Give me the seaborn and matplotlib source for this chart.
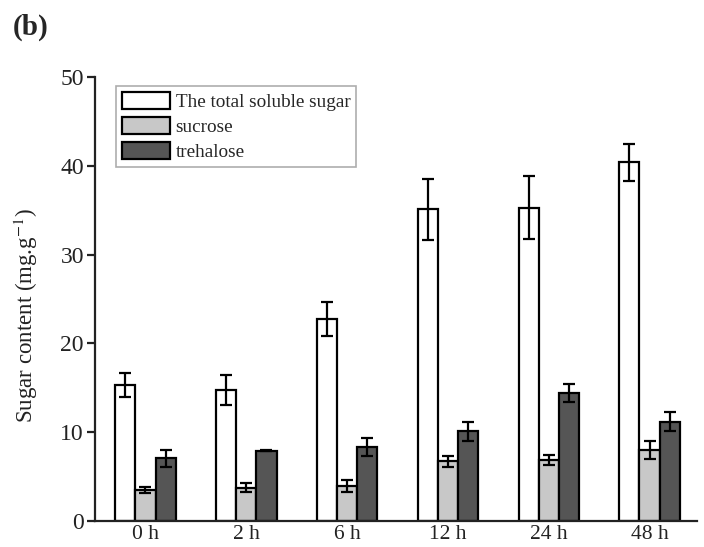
import matplotlib
matplotlib.use("Agg")
import matplotlib.pyplot as plt
import seaborn as sns
import pandas as pd
import numpy as np

# Sugar content over time (mean ± error)
times = ["0 h", "2 h", "6 h", "12 h", "24 h", "48 h"]
series = ["The total soluble sugar", "sucrose", "trehalose"]
total_sugar = [15.3, 14.75, 22.75, 35.1, 35.3, 40.4]
total_err = [1.35, 1.65, 1.9, 3.45, 3.55, 2.1]
sucrose = [3.5, 3.75, 3.95, 6.75, 6.85, 8.0]
sucrose_err = [0.38, 0.52, 0.7, 0.62, 0.55, 0.97]
trehalose = [7.05, 7.9, 8.35, 10.1, 14.4, 11.2]
trehalose_err = [0.97, 0.06, 1.0, 1.1, 1.05, 1.07]

values = [total_sugar, sucrose, trehalose]
errors = [total_err, sucrose_err, trehalose_err]
colors = ["#ffffff", "#c8c8c8", "#555555"]

df = pd.DataFrame({
    "time": np.tile(times, 3),
    "series": np.repeat(series, len(times)),
    "value": np.concatenate(values),
})

sns.set_style("ticks")
plt.rcParams["font.family"] = ["Liberation Serif", "DejaVu Serif"]
plt.rcParams["mathtext.fontset"] = "stix"

fig = plt.figure(figsize=(7.04, 5.47), dpi=100)
ax = fig.add_axes([0.135, 0.0475, 0.855, 0.8115])

sns.barplot(data=df, x="time", y="value", hue="series", order=times,
            hue_order=series, palette=colors, errorbar=None, width=0.6,
            edgecolor="black", linewidth=1.6, saturation=1, ax=ax)

# error bars placed on the drawn bars
bars = [p for p in ax.patches if p.get_height() > 0][:len(times) * len(series)]
for i, (vals, errs) in enumerate(zip(values, errors)):
    for j in range(len(times)):
        p = bars[i * len(times) + j]
        xc = p.get_x() + p.get_width() / 2
        ax.errorbar(xc, vals[j], yerr=errs[j], fmt="none", ecolor="black",
                    elinewidth=1.6, capsize=4.5, capthick=1.6, zorder=5)

ax.set_ylim(0, 50)
ax.set_xlim(-0.5, 5.47)
ax.set_yticks([0, 10, 20, 30, 40, 50])
ax.set_xlabel("")
ax.set_ylabel(r"Sugar content (mg.g$^{-1}$)", fontsize=16.5, color="#222222")
ax.yaxis.set_label_coords(-0.092, 0.462)
ax.tick_params(axis="y", labelsize=17, length=6, width=1.6, direction="out",
               colors="#222222", pad=2)
ax.tick_params(axis="x", labelsize=15.5, length=0, pad=3, colors="#222222")
for s in ["top", "right"]:
    ax.spines[s].set_visible(False)
for s in ["left", "bottom"]:
    ax.spines[s].set_linewidth(1.6)
    ax.spines[s].set_color("#222222")

leg = ax.legend(loc="upper left", bbox_to_anchor=(0.035, 0.98), fontsize=13.8,
                frameon=True, fancybox=False, edgecolor="#999999",
                handlelength=2.5, handleheight=1.0, handletextpad=0.3,
                labelspacing=0.32, borderpad=0.3, borderaxespad=0)
leg.get_frame().set_linewidth(1.2)
for h in leg.legend_handles:
    h.set_edgecolor("black")
    h.set_linewidth(1.6)

fig.text(0.018, 0.95, "(b)", fontsize=21, fontweight="bold", ha="left",
         va="center")

fig.savefig("out.png", dpi=100)
